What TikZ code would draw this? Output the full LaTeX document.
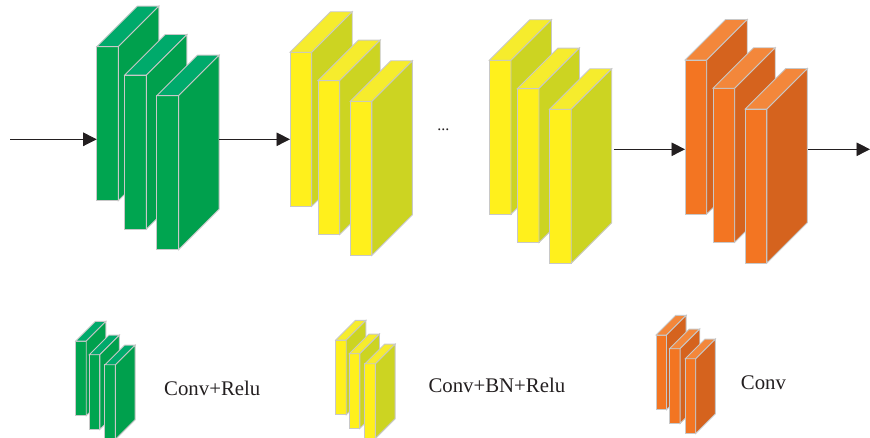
\documentclass[tikz,border=0pt]{standalone}
\usepackage{fontspec}
\setmainfont{Liberation Serif}
\usetikzlibrary{arrows.meta}
\definecolor{greenF}{HTML}{00A550}
\definecolor{greenT}{HTML}{00AA6B}
\definecolor{greenS}{HTML}{00A04D}
\definecolor{yellowF}{HTML}{FFF01C}
\definecolor{yellowT}{HTML}{F6EC2D}
\definecolor{yellowS}{HTML}{CCD422}
\definecolor{orangeF}{HTML}{F37522}
\definecolor{orangeT}{HTML}{F3873B}
\definecolor{orangeS}{HTML}{D5631E}
\definecolor{edgegray}{HTML}{C8C8C8}
\definecolor{arrowblack}{HTML}{231F20}
\tikzset{
  slabedge/.style={draw=edgegray, line width=0.9pt, line join=miter},
  flowarrow/.style={draw=arrowblack, line width=0.9pt, -{Triangle[length=13.5pt,width=13.5pt]}},
  legendtext/.style={inner sep=0pt, anchor=base west, font=\fontsize{20.8}{25}\selectfont, text=arrowblack}
}
% #1 x, #2 y, #3 w, #4 h, #5 depth, #6 colour prefix
\newcommand\slabbox[6]{%
  \filldraw[slabedge, fill=#6F] (#1,#2) rectangle ++(#3,#4);
  \filldraw[slabedge, fill=#6T] (#1,#2) -- ++(#5,-#5) -- ++(#3,0) -- ++(-#5,#5) -- cycle;
  \filldraw[slabedge, fill=#6S] (#1+#3,#2) -- ++(#5,-#5) -- ++(0,#4) -- ++(-#5,#5) -- cycle;
}
% #1 x, #2 y, #3 scale, #4 colour prefix
\newcommand\slabgroup[4]{%
  \pgfmathsetmacro\sw{21.7*#3}%
  \pgfmathsetmacro\sh{154*#3}%
  \pgfmathsetmacro\sd{40.5*#3}%
  \pgfmathsetmacro\xa{#1+28*#3}%
  \pgfmathsetmacro\ya{#2+28.3*#3}%
  \pgfmathsetmacro\xb{#1+60.2*#3}%
  \pgfmathsetmacro\yb{#2+49*#3}%
  \slabbox{#1}{#2}{\sw}{\sh}{\sd}{#4}
  \slabbox{\xa}{\ya}{\sw}{\sh}{\sd}{#4}
  \slabbox{\xb}{\yb}{\sw}{\sh}{\sd}{#4}
}
\begin{document}
\begin{tikzpicture}[x=1pt,y=-1pt]
\useasboundingbox (0,0) rectangle (870,438);
% main row
\slabgroup{96.7}{46.7}{1}{green}
\slabgroup{290}{52.3}{1}{yellow}
\slabgroup{489.3}{60.3}{1}{yellow}
\slabgroup{685}{60}{1}{orange}
% connection points
\coordinate (inp) at (10,139.3);
\coordinate (gin) at (96.7,139.3);
\coordinate (gout) at (219,139.3);
\coordinate (yin) at (290,139.3);
\coordinate (yout) at (613.5,149.3);
\coordinate (oin) at (685,149.3);
\coordinate (oout) at (808.3,149.3);
\coordinate (outp) at (870,149.3);
\draw[flowarrow] (inp) -- (gin);
\draw[flowarrow] (gout) -- (yin);
\draw[flowarrow] (yout) -- (oin);
\draw[flowarrow] (oout) -- (outp);
\node[inner sep=0pt, anchor=base, text=arrowblack, font=\fontsize{16}{18}\selectfont] (dots) at (443.3,131) {...};
% legend
\slabgroup{75.7}{341}{0.485}{green}
\slabgroup{335.7}{340}{0.485}{yellow}
\slabgroup{656}{335}{0.485}{orange}
\node[legendtext] (lg) at (164,395) {Conv+Relu};
\node[legendtext] (ly) at (428.3,392.7) {Conv+BN+Relu};
\node[legendtext] (lo) at (740.7,389.3) {Conv};
\end{tikzpicture}
\end{document}
